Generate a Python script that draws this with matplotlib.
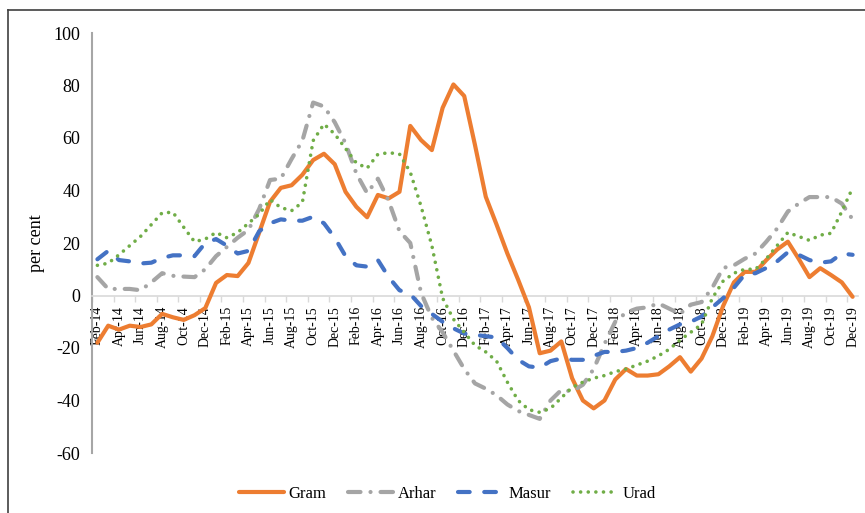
# ==============================================================================
# Pulses: year-on-year inflation (per cent), Feb-14 to Dec-19
# ==============================================================================
import pandas as pd
import matplotlib
matplotlib.use("Agg")
import matplotlib.pyplot as plt
from matplotlib.lines import Line2D

# ---- data ----
months = pd.date_range("2014-02-01", "2019-12-01", freq="MS")
month_labels = list(months.strftime("%b-%y"))

gram = [-18, -11.5, -13, -11.5, -12, -11, -7, -8.3, -9.3, -7.5,
        -4.8, 4.8, 7.8, 7.4, 12.4, 24, 35.7, 41, 42, 46,
        51.6, 54, 50, 39.5, 33.8, 29.8, 38.3, 37, 39.5, 64.6,
        59.2, 55.4, 71.5, 80.4, 76, 57.3, 37.6, 27, 16, 6,
        -4.5, -22, -21, -17.5, -31.5, -40, -43, -40, -32, -28,
        -30.5, -30.5, -30, -27, -23.5, -29, -24, -15.5, -4, 5,
        9, 9, 13.5, 17.5, 20.5, 14, 7, 10.4, 7.8, 5, -0.5]

arhar = [7, 2.5, 2.5, 2.5, 2, 5, 8.5, 7.5, 7.2, 7,
         10, 15, 18.5, 22, 25, 33, 44, 44.5, 52, 59,
         73.5, 72, 66, 58, 46.5, 39, 44.5, 36, 24.5, 20,
         1, -8.5, -14, -21, -28, -33.5, -35.5, -38, -41.5, -44,
         -45.5, -47, -40, -36, -36.5, -34, -28, -18.5, -10, -6.5,
         -5, -4.5, -3, -5, -7, -3.5, -2.5, 3, 10.5, 11.5,
         14, 16, 20.5, 25.5, 32, 35, 37.5, 37.5, 37.5, 35, 29]

masur = [13.8, 17, 13.5, 13, 12.2, 12.5, 14.3, 15.3, 15.3, 15,
         20, 21.5, 19, 16, 17, 24.5, 27.5, 29, 28.5, 28.5,
         30, 27.5, 22, 15, 11.5, 11, 13.5, 7, 2, 0.5,
         -4, -7, -10, -12.5, -14.5, -15, -15.5, -16, -20, -24.5,
         -27, -27.5, -25, -24, -24.5, -24.5, -23, -21.5, -21.5, -21,
         -20, -18, -15.5, -13, -11, -10, -8, -4.5, -1, 3,
         8, 8.5, 10.5, 13, 16.5, 15.5, 13.5, 12.5, 13, 16, 15.5]

urad = [11.5, 12.3, 15.5, 19, 22.5, 27, 31.5, 31.7, 26, 20.5,
        21.5, 24, 22, 24, 27.5, 31, 36.5, 33.5, 32.3, 35.5,
        59, 65.3, 61.5, 56, 50.5, 48.5, 53.8, 54.4, 53.9, 47,
        34, 19, -1, -9, -14, -19, -21.5, -25, -33, -40,
        -43.5, -44.5, -43, -39, -35, -33, -31.5, -30.5, -29, -28,
        -26.5, -25, -23, -20.5, -17, -14, -11, -1, 5.5, 8.5,
        10, 10, 14, 19, 24, 22.5, 21, 23, 23.7, 32, 41]

# ==========================================
# 1. 画布与坐标轴
# ==========================================
plt.rcParams["font.family"] = ["Liberation Serif", "DejaVu Serif"]
plt.rcParams["axes.unicode_minus"] = False

W, H = 865, 513
fig = plt.figure(figsize=(W / 100, H / 100), dpi=100)
ax = fig.add_axes([92 / W, 1 - 453 / H, (858 - 92) / W, (453 - 33) / H])

x = list(range(len(months)))

# ==========================================
# 2. 折线 (画在刻度文字之上, 同 Excel)
# ==========================================
ax.plot(x, gram, color="#ED7D31", lw=3, solid_capstyle="round",
        solid_joinstyle="round", label="Gram", zorder=3)
ax.plot(x, arhar, color="#A5A5A5", lw=3, dash_capstyle="round",
        linestyle=(0, (3.0, 2.4, 0.01, 2.4)), label="Arhar", zorder=3)
ax.plot(x, masur, color="#4472C4", lw=3, dash_capstyle="round",
        linestyle=(0, (2.8, 3.5)), label="Masur", zorder=3)
ax.plot(x, urad, color="#70AD47", lw=2.6, dash_capstyle="round",
        linestyle=(0, (0.01, 2.1)), label="Urad", zorder=3)

# ==========================================
# 3. 坐标轴样式 (Excel 风格)
# ==========================================
ax.set_xlim(-0.5, len(months) - 0.5)
ax.set_ylim(-60, 100)
ax.set_yticks(range(-60, 101, 20))
ax.tick_params(axis="y", length=0, pad=8.5, labelsize=13)

ax.set_xticks(x[::2])
ax.set_xticklabels(month_labels[::2], fontsize=14)
ax.set_xticks([v - 0.5 for v in x[::2]], minor=True)
ax.tick_params(axis="x", which="major", length=0, pad=7.5, labelrotation=90)
ax.tick_params(axis="x", which="minor", length=4.5, width=1,
               color="#D9D9D9", direction="out")

ax.spines["top"].set_visible(False)
ax.spines["right"].set_visible(False)
ax.spines["bottom"].set_position(("data", 0))
ax.spines["bottom"].set_color("#D9D9D9")
ax.spines["bottom"].set_linewidth(1.2)
ax.spines["left"].set_color("#A6A6A6")
ax.spines["left"].set_linewidth(1.5)

ax.set_ylabel("per cent", fontsize=13)
ax.yaxis.set_label_coords(-0.061, 0.5)

# ==========================================
# 4. 图例与外框
# ==========================================
fig.legend(loc="center", bbox_to_anchor=(0.517, 0.037), ncol=4,
           frameon=False, fontsize=12, handlelength=2.7,
           handletextpad=0.3, columnspacing=1.3)

fig.add_artist(Line2D([8 / W, 8 / W], [0, 1 - 10 / H],
                      transform=fig.transFigure, color="#404040", lw=1.2))
fig.add_artist(Line2D([8 / W, 1], [1 - 10 / H, 1 - 10 / H],
                      transform=fig.transFigure, color="#404040", lw=1.2))

fig.savefig("out.png", dpi=100)
